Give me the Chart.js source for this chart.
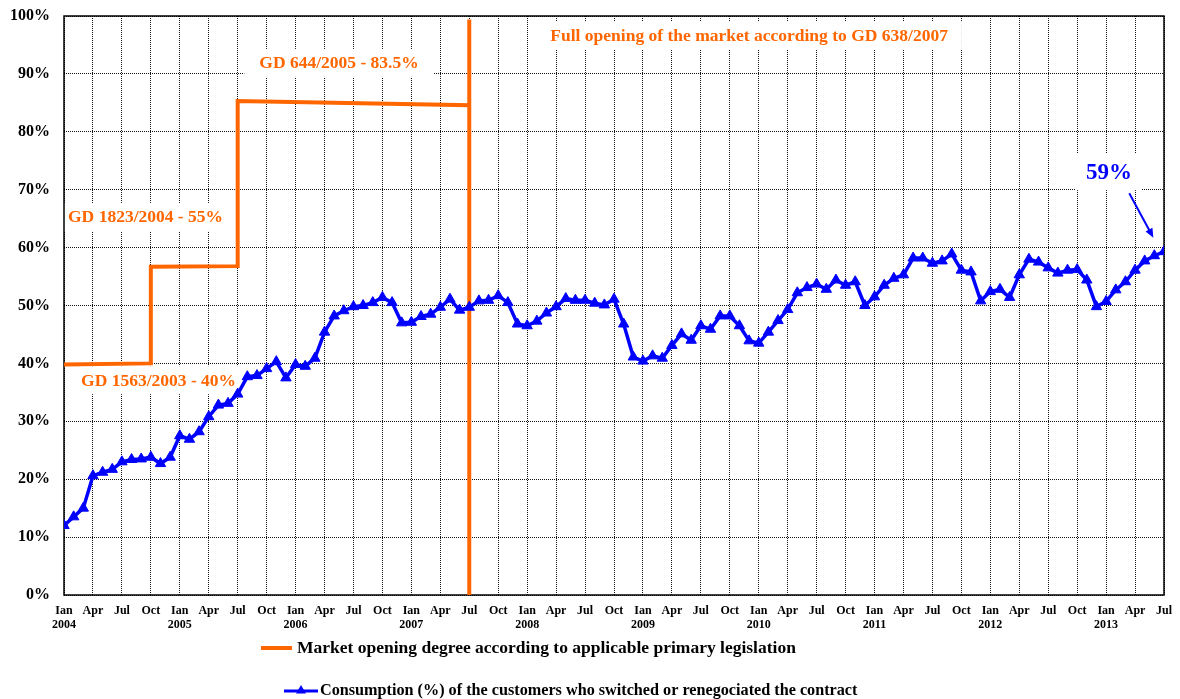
<!DOCTYPE html>
<html>
<head>
<meta charset="utf-8">
<script src="https://cdn.jsdelivr.net/npm/chart.js@4"></script>
<style>
  html, body { margin: 0; padding: 0; background: #fff; }
  #wrap { width: 1180px; height: 699px; }
</style>
</head>
<body>
<div id="wrap"><canvas id="chart" width="1180" height="699"></canvas></div>
<script>
const SERIF = "'Liberation Serif', 'Times New Roman', serif";
const ORANGE = '#ff6600';
const BLUE = '#0000ff';

// x axis: month index, 0 = Jan 2004 ... 114 = Jul 2013
const monthLabels = ['Ian', 'Apr', 'Jul', 'Oct'];
const yearLabels = ['2004', '2005', '2006', '2007', '2008', '2009', '2010', '2011', '2012', '2013'];

// consumption (%) of customers who switched / renegotiated, one value per month
const switchedValues = [
    12.0, 13.5, 15.0, 20.6, 21.2, 21.7, 23.0, 23.4, 23.5, 23.8, 22.7, 23.8,
    27.5, 26.9, 28.2, 30.8, 32.8, 33.1, 34.7, 37.7, 37.9, 39.1, 40.3, 37.5,
    39.8, 39.5, 40.9, 45.4, 48.2, 49.1, 49.8, 50.0, 50.5, 51.4, 50.5, 47.0,
    47.1, 48.1, 48.5, 49.7, 51.1, 49.2, 49.7, 50.8, 50.9, 51.7, 50.5, 46.8,
    46.5, 47.3, 48.7, 49.8, 51.2, 50.9, 50.9, 50.4, 50.1, 51.1, 46.8, 41.1,
    40.4, 41.3, 40.9, 43.1, 45.1, 44.0, 46.5, 45.9, 48.2, 48.2, 46.5, 43.9,
    43.5, 45.4, 47.4, 49.3, 52.2, 53.1, 53.7, 52.8, 54.4, 53.5, 54.1, 50.0,
    51.5, 53.5, 54.7, 55.3, 58.2, 58.2, 57.3, 57.7, 58.9, 56.1, 55.8, 50.8,
    52.4, 52.8, 51.4, 55.3, 58.0, 57.5, 56.5, 55.6, 56.1, 56.2, 54.4, 49.8,
    50.7, 52.7, 54.1, 56.1, 57.7, 58.6, 59.3
];

// market opening degree (step line) as [month index, %]
const openingMonths = [0, 9, 9, 18, 18, 42, 42, 42];
const openingValues = [39.8, 40.0, 56.7, 56.8, 85.3, 84.6, 99.4, 0];

const legendTexts = [
    'Market opening degree according to applicable primary legislation',
    'Consumption (%) of the customers who switched or renegociated the contract'
];

// text notes placed in data units (month index, %)
const notes = [
    { text: 'GD 1563/2003 - 40%', month: 9.8, value: 37.1, color: ORANGE, size: 17.5, pad: 6 },
    { text: 'GD 1823/2004 - 55%', month: 8.45, value: 65.3, color: ORANGE, size: 17.5, pad: 6 },
    { text: 'GD 644/2005 - 83.5%', month: 28.5, value: 91.9, color: ORANGE, size: 17.5, pad: 15 },
    { text: 'Full opening of the market according to GD 638/2007', month: 71.0, value: 96.7, color: ORANGE, size: 17.5, pad: 14 },
    { text: '59%', month: 108.3, value: 73.1, color: BLUE, size: 23, pad: 10 }
];
const arrowFrom = { month: 110.4, value: 69.4 };
const arrowTo = { month: 112.9, value: 61.7 };

const notesPlugin = {
    id: 'notes',
    beforeDatasetsDraw(chart) {
        const ctx = chart.ctx;
        const xs = chart.scales.x;
        const ys = chart.scales.y;
        const area = chart.chartArea;

        ctx.save();
        notes.forEach(n => {
            ctx.font = 'bold ' + n.size + 'px ' + SERIF;
            let cx = xs.getPixelForValue(n.month);
            let cy = ys.getPixelForValue(n.value);
            let w = ctx.measureText(n.text).width;
            let h = n.size * 1.6;
            ctx.fillStyle = '#fff';
            ctx.fillRect(cx - w / 2 - n.pad, cy - h / 2, w + n.pad * 2, h);
            ctx.fillStyle = n.color;
            ctx.textAlign = 'center';
            ctx.textBaseline = 'middle';
            ctx.fillText(n.text, cx, cy + 1);
        });

        // plot frame
        ctx.strokeStyle = '#000';
        ctx.lineWidth = 1.5;
        ctx.strokeRect(area.left, area.top, area.right - area.left, area.bottom - area.top);

        // arrow to the last value
        let x1 = xs.getPixelForValue(arrowFrom.month), y1 = ys.getPixelForValue(arrowFrom.value);
        let x2 = xs.getPixelForValue(arrowTo.month), y2 = ys.getPixelForValue(arrowTo.value);
        let ang = Math.atan2(y2 - y1, x2 - x1);
        ctx.strokeStyle = BLUE;
        ctx.fillStyle = BLUE;
        ctx.lineWidth = 2;
        ctx.beginPath();
        ctx.moveTo(x1, y1);
        ctx.lineTo(x2 - 6 * Math.cos(ang), y2 - 6 * Math.sin(ang));
        ctx.stroke();
        ctx.beginPath();
        ctx.moveTo(x2, y2);
        ctx.lineTo(x2 - 10 * Math.cos(ang - 0.4), y2 - 10 * Math.sin(ang - 0.4));
        ctx.lineTo(x2 - 10 * Math.cos(ang + 0.4), y2 - 10 * Math.sin(ang + 0.4));
        ctx.closePath();
        ctx.fill();
        ctx.restore();
    }
};

const legendPlugin = {
    id: 'twoRowLegend',
    afterDraw(chart) {
        const ctx = chart.ctx;
        ctx.save();
        ctx.textAlign = 'left';
        ctx.textBaseline = 'middle';

        // row 1: orange line
        ctx.font = 'bold 17.5px ' + SERIF;
        ctx.strokeStyle = ORANGE;
        ctx.lineWidth = 4;
        ctx.beginPath();
        ctx.moveTo(261, 648);
        ctx.lineTo(292, 648);
        ctx.stroke();
        ctx.fillStyle = '#000';
        ctx.fillText(legendTexts[0], 297, 648);

        // row 2: blue line with triangle
        ctx.font = 'bold 16.2px ' + SERIF;
        ctx.strokeStyle = BLUE;
        ctx.lineWidth = 3;
        ctx.beginPath();
        ctx.moveTo(284, 691);
        ctx.lineTo(318, 691);
        ctx.stroke();
        ctx.fillStyle = BLUE;
        ctx.beginPath();
        ctx.moveTo(301, 685);
        ctx.lineTo(306, 693.5);
        ctx.lineTo(296, 693.5);
        ctx.closePath();
        ctx.fill();
        ctx.fillStyle = '#000';
        ctx.fillText(legendTexts[1], 320, 691);
        ctx.restore();
    }
};

const ctx = document.getElementById('chart');
new Chart(ctx, {
    type: 'line',
    data: {
        datasets: [
            {
                label: legendTexts[0],
                data: openingMonths.map((m, i) => ({ x: m, y: openingValues[i] })),
                borderColor: ORANGE,
                borderWidth: 4,
                pointRadius: 0,
                tension: 0,
                order: 2
            },
            {
                label: legendTexts[1],
                data: switchedValues.map((v, i) => ({ x: i, y: v })),
                borderColor: BLUE,
                backgroundColor: BLUE,
                borderWidth: 3.5,
                pointStyle: 'triangle',
                pointRadius: 6,
                pointBorderWidth: 1,
                tension: 0,
                order: 1
            }
        ]
    },
    options: {
        responsive: false,
        animation: false,
        layout: {
            padding: { top: 16, right: 16, bottom: 64, left: 0 }
        },
        plugins: {
            legend: { display: false },
            tooltip: { enabled: false }
        },
        scales: {
            x: {
                type: 'linear',
                min: 0,
                max: 114,
                afterFit: s => { s.height = 40; s.paddingLeft = 0; s.paddingRight = 0; },
                ticks: {
                    stepSize: 3,
                    maxTicksLimit: 50,
                    autoSkip: false,
                    maxRotation: 0,
                    padding: 9,
                    color: '#000',
                    font: { family: SERIF, size: 12, weight: 'bold', lineHeight: 1.15 },
                    callback: function (v) {
                        if (v % 3 !== 0) return '';
                        let name = monthLabels[(v / 3) % 4];
                        if (v % 12 === 0) return [name, yearLabels[v / 12]];
                        return name;
                    }
                },
                grid: {
                    color: '#111',
                    lineWidth: 1,
                    drawTicks: false
                },
                border: { display: false, dash: [1, 1] }
            },
            y: {
                min: 0,
                max: 100,
                afterFit: s => { s.width = 64; s.paddingTop = 0; s.paddingBottom = 0; },
                ticks: {
                    stepSize: 10,
                    padding: 14,
                    color: '#000',
                    font: { family: SERIF, size: 16, weight: 'bold' },
                    callback: v => v + '%'
                },
                grid: {
                    color: '#111',
                    lineWidth: 1,
                    drawTicks: false
                },
                border: { display: false, dash: [1, 1] }
            }
        }
    },
    plugins: [notesPlugin, legendPlugin]
});
</script>
</body>
</html>
